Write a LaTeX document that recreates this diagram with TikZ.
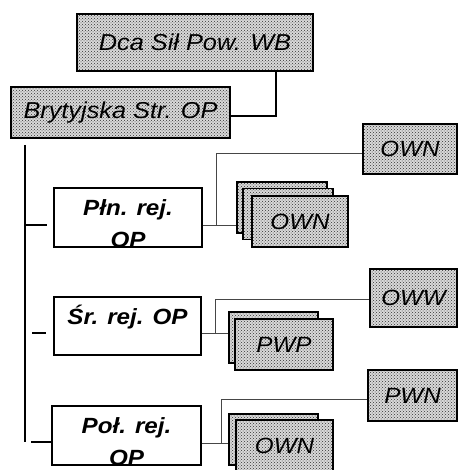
\documentclass[tikz,border=0pt]{standalone}
\usepackage{fontspec}
\setmainfont{Liberation Sans}[FakeStretch=1.1]
\usetikzlibrary{patterns,backgrounds}
\begin{document}
\begin{tikzpicture}[x=1pt,y=-1pt,
    wh/.style 2 args={minimum width=#1pt,minimum height=#2pt},
    szary/.style={draw,line width=1.4pt,inner sep=0pt,preaction={fill=gray!30},
      pattern=crosshatch dots,pattern color=black!80,font=\itshape\fontsize{22}{26}\selectfont},
    rejon/.style={draw,line width=1.4pt,inner sep=0pt},
    napis/.style={anchor=base,align=center,inner sep=0pt,font=\bfseries\itshape\fontsize{22}{32}\selectfont},
    cienka/.style={gray!55!black,line width=0.8pt},
    gruba/.style={line width=1.4pt}]
  \useasboundingbox (0,0) rectangle (458,470);
  % dowodztwo
  \node[szary,wh={236}{57},font=\itshape\fontsize{23}{26}\selectfont] (dca) at (195,42.5) {Dca Sił Pow. WB};
  \node[szary,wh={219}{51},font=\itshape\fontsize{23}{26}\selectfont] (bryt) at (120.5,112.5) {Brytyjska Str. OP};
  \draw[gruba] ([xshift=81pt]dca.south) |- ([yshift=-3.5pt]bryt.east);
  \coordinate (pien) at (25,145);%pion
  \draw[gruba] (pien) -- (25,442);
  % rejony
  \node[rejon,wh={148}{59}] (pln) at (128,217.5) {};
  \node[rejon,wh={147}{58}] (sr) at (127.5,326) {};
  \node[rejon,wh={149}{59}] (pol) at (126.5,435.5) {};
  \begin{scope}[on background layer]
    \node[napis] at ([yshift=-60pt]pln.north) {Płn. rej.\\OP};
    \node[napis] at ([yshift=-28pt]sr.north) {Śr. rej. OP};
    \node[napis] at ([yshift=-60pt]pol.north) {Poł. rej.\\OP};
  \end{scope}
  % kreski do pionu
  \coordinate (k1) at ([yshift=-7.5pt]pln.west);
  \coordinate (k2) at ([yshift=-7pt]sr.west);
  \coordinate (k3) at ([yshift=-6.5pt]pol.west);
  \draw[gruba] (pien |- k1) -- ([xshift=-6pt]k1);
  \draw[gruba] ([xshift=7pt]pien |- k2) -- ([xshift=-7pt]k2);
  \draw[gruba] ([xshift=6pt]pien |- k3) -- (k3);
  % jednostki
  \node[szary,wh={94}{50}] (own1) at (410,149) {OWN};
  \node[szary,wh={90}{51}] (own1a) at (282,207.5) {};
  \node[szary,wh={90}{51}] (own1b) at (288,214) {};
  \node[szary,wh={96}{51}] (own1c) at (300,221.5) {OWN};
  \node[szary,wh={87}{58}] (oww) at (413.5,298) {OWW};
  \node[szary,wh={89}{51}] (pwpa) at (273.5,337.5) {};
  \node[szary,wh={98}{51}] (pwpb) at (284,344.5) {PWP};
  \node[szary,wh={89}{51}] (pwn) at (412.5,395.5) {PWN};
  \node[szary,wh={89}{51}] (own3a) at (273.5,439.5) {};
  \node[szary,wh={97}{51}] (own3b) at (284.5,445.5) {OWN};
  % polaczenia
  \coordinate (w1) at (216,225);
  \coordinate (w2) at (215,333);
  \coordinate (w3) at (221,443);
  \draw[cienka] ([yshift=-7.5pt]pln.east) -- (w1) |- ([yshift=-4pt]own1.west);
  \draw[cienka] (w1) -- (w1 -| own1a.west);
  \draw[cienka] ([yshift=-7pt]sr.east) -- (w2) |- ([yshift=-1pt]oww.west);
  \draw[cienka] (w2) -- (w2 -| pwpa.west);
  \draw[cienka] ([yshift=-7.5pt]pol.east) -- (w3) |- ([yshift=-3.5pt]pwn.west);
  \draw[cienka] (w3) -- (w3 -| own3a.west);
\end{tikzpicture}
\end{document}
